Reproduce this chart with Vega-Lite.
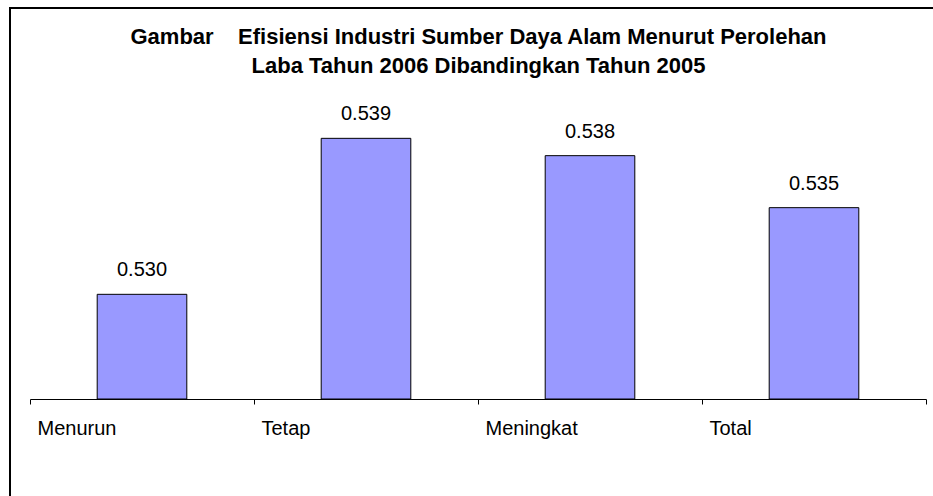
{
  "$schema": "https://vega.github.io/schema/vega-lite/v6.json",
  "width": 930,
  "height": 495,
  "autosize": "none",
  "padding": {"left": 10, "top": 8, "right": 0, "bottom": 0},
  "background": "white",
  "config": {"view": {"stroke": "black", "strokeWidth": 2}, "font": "Liberation Sans"},
  "title": {
    "text": ["Gambar\u00a0\u00a0\u00a0 Efisiensi Industri Sumber Daya Alam Menurut Perolehan", "Laba Tahun 2006 Dibandingkan Tahun 2005"],
    "fontSize": 22,
    "fontWeight": "bold",
    "font": "Liberation Sans",
    "color": "black",
    "anchor": "middle",
    "frame": "group",
    "offset": -70,
    "lineHeight": 29,
    "baseline": "top",
    "dx": 3.5
  },
  "data": {"values": [
    {"kategori": "Menurun", "nilai": 0.530},
    {"kategori": "Tetap", "nilai": 0.539},
    {"kategori": "Meningkat", "nilai": 0.538},
    {"kategori": "Total", "nilai": 0.535}
  ]},
  "encoding": {
    "x": {
      "field": "kategori",
      "type": "nominal",
      "sort": null,
      "scale": {"range": [20, 916], "paddingInner": 0, "paddingOuter": 0},
      "axis": {
        "title": null,
        "orient": "bottom",
        "offset": -104,
        "domainColor": "black",
        "domainWidth": 1,
        "tickColor": "black",
        "tickSize": 5,
        "tickBand": "extent",
        "labelAlign": "left",
        "labelOffset": -105,
        "labelAngle": 0,
        "labelFontSize": 20,
        "labelColor": "black",
        "labelPadding": 14,
        "labelBaseline": "top",
        "labelFont": "Liberation Sans"
      }
    }
  },
  "layer": [
    {
      "mark": {"type": "bar", "fill": "#9999FF", "stroke": "black", "strokeWidth": 1, "width": {"band": 0.4}},
      "encoding": {
        "y": {"field": "nilai", "type": "quantitative", "scale": {"domain": [0.51796, 0.54652], "zero": false, "nice": false}, "axis": null},
        "y2": {"datum": 0.52396}
      }
    },
    {
      "mark": {"type": "text", "baseline": "alphabetic", "dy": -18, "fontSize": 20, "font": "Liberation Sans", "color": "black"},
      "encoding": {
        "y": {"field": "nilai", "type": "quantitative"},
        "text": {"field": "nilai", "type": "quantitative", "format": ".3f"}
      }
    }
  ]
}
